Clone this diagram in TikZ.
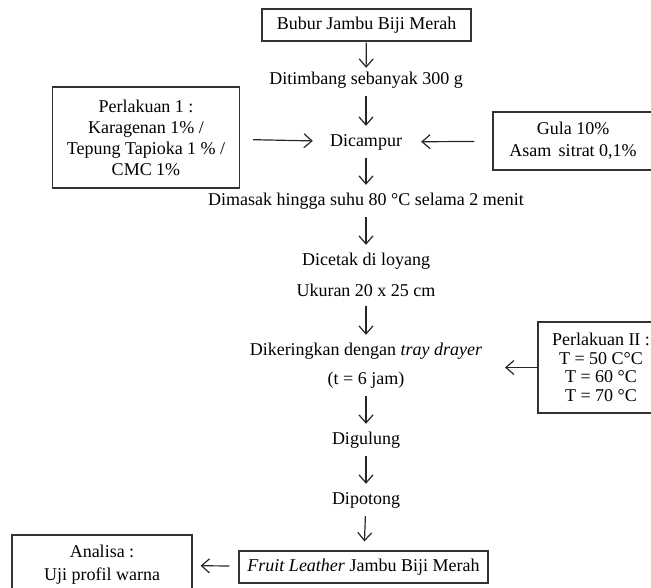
\documentclass[tikz,border=0pt]{standalone}
\usepackage{fontspec}
\setmainfont{Liberation Serif}
\usetikzlibrary{arrows.meta}
\begin{document}
\begin{tikzpicture}[
        x=1pt, y=-1pt,
        font=\fontsize{18}{21}\selectfont,
        boxnode/.style={
            draw=black!80, line width=1.1pt, align=center, inner sep=0pt
        },
        textnode/.style={
            align=center, inner sep=0pt, minimum height=32pt
        },
        arr/.style={
            draw=black!85, line width=1.2pt,
            -{Straight Barb[length=8pt, width=14pt]}
        }
    ]
    \useasboundingbox (0, 0) rectangle (651, 588);
    \node[boxnode, minimum width=209pt, minimum height=32pt] (bubur) at (366.5, 25) {Bubur Jambu Biji Merah};
    \node[textnode] (timbang) at (366, 80) {Ditimbang sebanyak 300 g};
    \node[textnode] (campur) at (366, 142) {Dicampur};
    \node[boxnode, minimum width=187pt, minimum height=101pt] (p1) at (146, 137.5) {Perlakuan 1 :\\Karagenan 1\% /\\Tepung Tapioka 1 \% /\\CMC 1\%};
    \node[boxnode, minimum width=160pt, minimum height=58pt, font=\fontsize{18}{22}\selectfont] (gula) at (573, 141) {Gula 10\%\\Asam\, sitrat 0,1\%};
    \node[textnode] (masak) at (366, 201) {Dimasak hingga suhu 80 °C selama 2 menit};
    \node[textnode] (loyang) at (366, 261) {Dicetak di loyang};
    \node[textnode] (ukuran) at (366, 290) {Ukuran 20 x 25 cm};
    \node[textnode] (kering) at (366, 351) {Dikeringkan dengan \textit{tray drayer}};
    \node[textnode] (jam) at (366, 380) {(t = 6 jam)};
    \node[boxnode, minimum width=126pt, minimum height=91pt, font=\fontsize{18}{18.5}\selectfont] (p2) at (601, 367.5) {Perlakuan II :\\T = 50 C°C\\T = 60 °C\\T = 70 °C};
    \coordinate (keringin) at (505, 367.5);
    \node[textnode] (gulung) at (366, 440) {Digulung};
    \node[textnode] (potong) at (366, 500) {Dipotong};
    \node[boxnode, minimum width=249pt, minimum height=32pt] (fruit) at (363.5, 567) {\textit{Fruit Leather} Jambu Biji Merah};
    \node[boxnode, minimum width=180pt, minimum height=60pt, font=\fontsize{18}{23}\selectfont] (analisa) at (102, 565) {Analisa :\\Uji profil warna};

    % arrows
    \draw[arr, shorten <=1pt, shorten >=-4pt] (bubur) -- (timbang);
    \draw[arr] (timbang) -- (campur);
    \draw[arr, shorten <=13pt, shorten >=17pt] (p1) -- (campur);
    \draw[arr, shorten <=18pt, shorten >=19pt] (gula) -- (campur);
    \draw[arr] (campur) -- (masak);
    \draw[arr] (masak) -- (loyang);
    \draw[arr] (ukuran) -- (kering);
    \draw[arr] (p2) -- (keringin);
    \draw[arr] (jam) -- (gulung);
    \draw[arr] (gulung) -- (potong);
    \draw[arr, shorten >=9pt] (potong) -- (fruit);
    \draw[arr, shorten <=9pt, shorten >=8pt] (fruit) -- (analisa);
\end{tikzpicture}
\end{document}
